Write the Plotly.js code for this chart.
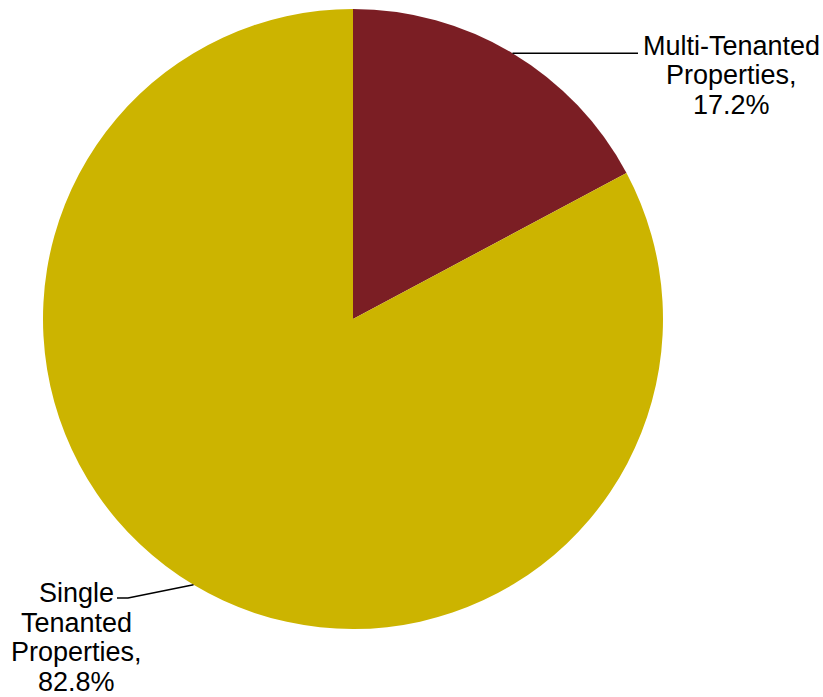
<!DOCTYPE html>
<html><head><meta charset="utf-8">
<script src="https://cdn.plot.ly/plotly-3.0.1.min.js"></script>
<style>html,body{margin:0;padding:0;background:#fff}</style>
</head><body><div id="chart" style="width:823px;height:697px"></div>
<script>
const categories = ["Multi-Tenanted Properties", "Single Tenanted Properties"];
const values = [17.2, 82.8];
const colors = ["#7B1E24", "#CCB400"];
const labelLines = [["Multi-Tenanted", "Properties,", "17.2%"], ["Single", "Tenanted", "Properties,", "82.8%"]];

const W = 823, H = 697;
const cx = 353, cy = 319, R = 310;
const px = x => x / W, py = y => 1 - y / H;

// label layout (pixels)
const labelCfg = [
  {x: 731, firstBaseline: 55, elbow: null, end: 638},
  {x: 76, firstBaseline: 602, elbow: [128, 598], end: 117}
];
const lineGap = 29.5, fs = 27;

const total = values.reduce((a, b) => a + b, 0);
let cum = 0;
const annotations = [], shapes = [];
values.forEach((v, i) => {
  const mid = (cum + v / 2) / total * 2 * Math.PI;
  cum += v;
  const ex = cx + R * Math.sin(mid), ey = cy - R * Math.cos(mid);
  const cfg = labelCfg[i];
  let path;
  if (cfg.elbow) {
    path = `M${px(ex)},${py(ey)} L${px(cfg.elbow[0])},${py(cfg.elbow[1])} L${px(cfg.end)},${py(cfg.elbow[1])}`;
  } else {
    path = `M${px(ex)},${py(ey)} L${px(cfg.end)},${py(ey)}`;
  }
  shapes.push({type: 'path', xref: 'paper', yref: 'paper', path: path, line: {color: '#000', width: 1.5}});
  labelLines[i].forEach((t, k) => {
    const base = cfg.firstBaseline + k * lineGap;
    annotations.push({xref: 'paper', yref: 'paper', x: px(cfg.x), y: py(base - 9), text: t,
      showarrow: false, xanchor: 'center', yanchor: 'middle',
      font: {family: 'Liberation Sans, Arial, sans-serif', size: fs, color: '#000'}});
  });
});

const data = [{
  type: 'pie', labels: categories, values: values, sort: false, direction: 'clockwise', rotation: 0,
  marker: {colors: colors, line: {width: 0}}, textinfo: 'none', hoverinfo: 'label+percent',
  domain: {x: [px(cx - R), px(cx + R)], y: [py(cy + R), py(cy - R)]}
}];
const layout = {width: W, height: H, margin: {l: 0, r: 0, t: 0, b: 0}, showlegend: false,
  paper_bgcolor: '#fff', annotations: annotations, shapes: shapes};
Plotly.newPlot('chart', data, layout, {displayModeBar: false, staticPlot: true});
</script></body></html>
